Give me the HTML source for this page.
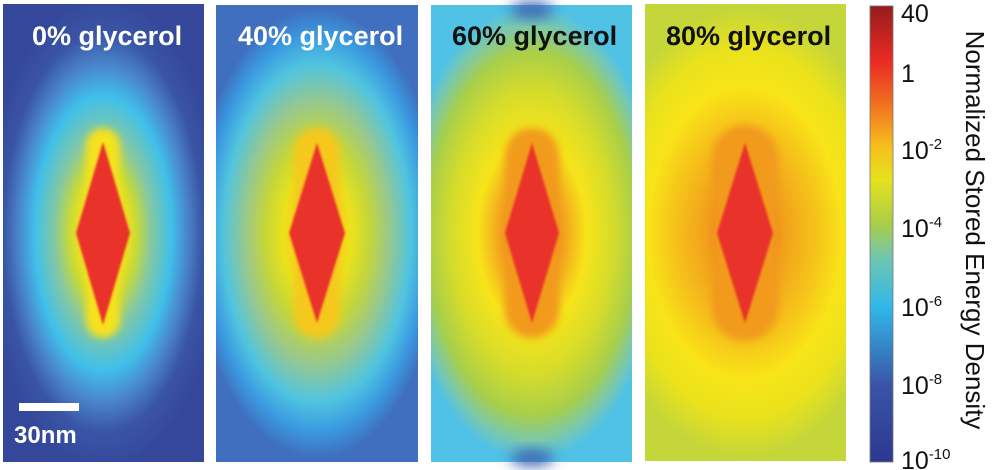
<!DOCTYPE html>
<html><head><style>
html,body{margin:0;padding:0;background:#fff;width:1000px;height:470px;overflow:hidden}
svg text{font-family:"Liberation Sans",sans-serif}
</style></head><body>
<svg width="1000" height="470" viewBox="0 0 1000 470" xmlns="http://www.w3.org/2000/svg">
<defs>
<filter id="bl" x="-50%" y="-50%" width="200%" height="200%"><feGaussianBlur stdDeviation="7"/></filter>
<filter id="bm" x="-50%" y="-50%" width="200%" height="200%"><feGaussianBlur stdDeviation="4"/></filter>
<filter id="bs" x="-50%" y="-50%" width="200%" height="200%"><feGaussianBlur stdDeviation="1"/></filter>
<radialGradient id="g1" gradientUnits="userSpaceOnUse" cx="103" cy="233" r="120" gradientTransform="translate(103 233) scale(1 2.0) translate(-103 -233)">
<stop offset="0" stop-color="#f08a1e"/><stop offset="0.18" stop-color="#f7e21a"/><stop offset="0.28" stop-color="#c9da36"/><stop offset="0.4" stop-color="#86c8a0"/><stop offset="0.57" stop-color="#40c0ea"/><stop offset="0.7" stop-color="#4a86cc"/><stop offset="0.83" stop-color="#3a55a5"/><stop offset="1" stop-color="#34479a"/>
</radialGradient>
<radialGradient id="g2" gradientUnits="userSpaceOnUse" cx="317" cy="233" r="125" gradientTransform="translate(317 233) scale(1 1.8) translate(-317 -233)">
<stop offset="0" stop-color="#ee5a22"/><stop offset="0.19" stop-color="#f7d81a"/><stop offset="0.28" stop-color="#eae21c"/><stop offset="0.42" stop-color="#c4d63a"/><stop offset="0.58" stop-color="#98c88e"/><stop offset="0.75" stop-color="#50c4e0"/><stop offset="0.88" stop-color="#3a9ae0"/><stop offset="1" stop-color="#3f6fbe"/>
</radialGradient>
<radialGradient id="g3" gradientUnits="userSpaceOnUse" cx="532" cy="233" r="130" gradientTransform="translate(532 233) scale(1 1.75) translate(-532 -233)">
<stop offset="0" stop-color="#ec3c24"/><stop offset="0.2" stop-color="#f29020"/><stop offset="0.42" stop-color="#f7e41a"/><stop offset="0.62" stop-color="#d6dc2a"/><stop offset="0.8" stop-color="#a8cf4a"/><stop offset="0.92" stop-color="#78c8b0"/><stop offset="1" stop-color="#50c2e6"/>
</radialGradient>
<radialGradient id="g4" gradientUnits="userSpaceOnUse" cx="745" cy="233" r="150" gradientTransform="translate(745 233) scale(1 1.5) translate(-745 -233)">
<stop offset="0" stop-color="#ec3c24"/><stop offset="0.26" stop-color="#f2a01c"/><stop offset="0.48" stop-color="#f6c41a"/><stop offset="0.65" stop-color="#f8e418"/><stop offset="0.82" stop-color="#eae21c"/><stop offset="1" stop-color="#c4d63a"/>
</radialGradient>
<linearGradient id="cb" x1="0" y1="1" x2="0" y2="0">
<stop offset="0" stop-color="#2b3890"/><stop offset="0.17" stop-color="#3a55a6"/><stop offset="0.34" stop-color="#30b8ea"/><stop offset="0.45" stop-color="#72c6ae"/><stop offset="0.52" stop-color="#a8cd48"/><stop offset="0.62" stop-color="#e6e21e"/><stop offset="0.69" stop-color="#f6c01c"/><stop offset="0.78" stop-color="#f1741f"/><stop offset="0.88" stop-color="#ea2a24"/><stop offset="1" stop-color="#961c1c"/>
</linearGradient>
</defs>

<rect x="3" y="4" width="201" height="458" fill="url(#g1)"/>
<rect x="216" y="5" width="202" height="457" fill="url(#g2)"/>
<rect x="431" y="5" width="201" height="457" fill="url(#g3)"/>
<ellipse cx="532" cy="10" rx="22" ry="8" fill="#3d5fb0" filter="url(#bl)"/>
<ellipse cx="532" cy="458" rx="22" ry="8" fill="#3d5fb0" filter="url(#bl)"/>
<rect x="645" y="4" width="201" height="457" fill="url(#g4)"/>

<g filter="url(#bm)">
<rect x="86" y="128" width="34" height="210" rx="17" fill="#f6e21a"/>
<rect x="294" y="128" width="46" height="210" rx="23" fill="#f6c81a"/>
<rect x="505" y="128" width="54" height="210" rx="27" fill="#f29a1e"/>
<rect x="712" y="125" width="66" height="216" rx="33" fill="#f19a1e"/>
</g>
<g filter="url(#bs)">
<polygon points="103,142 130,233 103,325 76,233" fill="#e9302a"/>
<polygon points="317,143 345,233 317,323 289,233" fill="#e9302a"/>
<polygon points="532,143 559,233 532,323 505,233" fill="#e9302a"/>
<polygon points="745,143 773,233 745,323 717,233" fill="#e9302a"/>
</g>

<g font-weight="bold" font-size="27">
<text x="32" y="45" fill="#fff">0% glycerol</text>
<text x="238" y="45" fill="#fff">40% glycerol</text>
<text x="452" y="45" fill="#111">60% glycerol</text>
<text x="666" y="45" fill="#111">80% glycerol</text>
</g>
<rect x="19" y="403" width="60" height="8" fill="#fff"/>
<text x="14" y="443" fill="#fff" font-weight="bold" font-size="24">30nm</text>

<rect x="870" y="6" width="23" height="456" fill="url(#cb)" stroke="#777" stroke-width="0.8"/>
<g font-size="25" fill="#111">
<text x="901" y="22">40</text>
<text x="901" y="82">1</text>
<text x="901" y="159">10<tspan font-size="15" dy="-10">-2</tspan></text>
<text x="901" y="237">10<tspan font-size="15" dy="-10">-4</tspan></text>
<text x="901" y="316">10<tspan font-size="15" dy="-10">-6</tspan></text>
<text x="901" y="394">10<tspan font-size="15" dy="-10">-8</tspan></text>
<text x="901" y="469">10<tspan font-size="15" dy="-10">-10</tspan></text>
</g>
<text transform="translate(966 230) rotate(90)" text-anchor="middle" font-size="26" fill="#111">Normalized Stored Energy Density</text>
</svg>
</body></html>
